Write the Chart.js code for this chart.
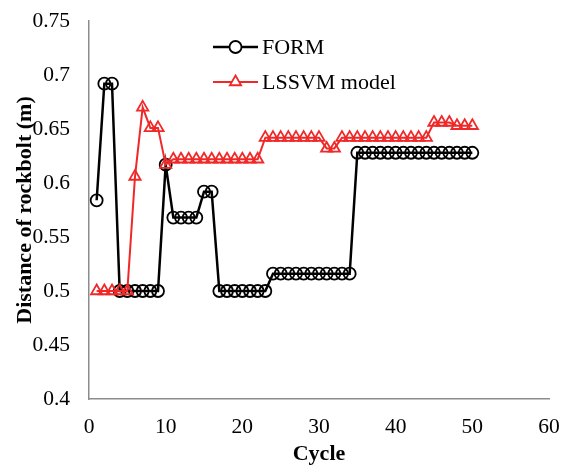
<!DOCTYPE html>
<html>
<head>
<meta charset="utf-8">
<script src="https://cdn.jsdelivr.net/npm/chart.js@4/dist/chart.umd.min.js"></script>
<style>
  html, body { margin: 0; padding: 0; background: #fff; }
  #wrap { width: 573px; height: 469px; position: relative; }
</style>
</head>
<body>
<div id="wrap"><canvas id="chart" width="573" height="469"></canvas></div>
<script>
// values
const cycles = [];
for (let i = 1; i <= 50; i++) cycles.push(i);

const formValues = [
    0.584, 0.692, 0.692, 0.5, 0.5, 0.5, 0.5, 0.5, 0.5, 0.617,
    0.568, 0.568, 0.568, 0.568, 0.592, 0.592, 0.5, 0.5, 0.5, 0.5,
    0.5, 0.5, 0.5, 0.516, 0.516, 0.516, 0.516, 0.516, 0.516, 0.516,
    0.516, 0.516, 0.516, 0.516, 0.628, 0.628, 0.628, 0.628, 0.628, 0.628,
    0.628, 0.628, 0.628, 0.628, 0.628, 0.628, 0.628, 0.628, 0.628, 0.628
];

const lssvmValues = [
    0.5, 0.5, 0.5, 0.5, 0.5, 0.606, 0.67, 0.651, 0.651, 0.617,
    0.622, 0.622, 0.622, 0.622, 0.622, 0.622, 0.622, 0.622, 0.622, 0.622,
    0.622, 0.622, 0.642, 0.642, 0.642, 0.642, 0.642, 0.642, 0.642, 0.642,
    0.632, 0.632, 0.642, 0.642, 0.642, 0.642, 0.642, 0.642, 0.642, 0.642,
    0.642, 0.642, 0.642, 0.642, 0.656, 0.656, 0.656, 0.653, 0.653, 0.653
];

const xTicks = [0, 10, 20, 30, 40, 50, 60];
const yTicks = [0.4, 0.45, 0.5, 0.55, 0.6, 0.65, 0.7, 0.75];

const serif = "'Times New Roman', 'Liberation Serif', serif";
const red = "#f02828";
const axisGrey = "#8c8c8c";

function toPoints(vals) {
    return vals.map((v, i) => ({ x: cycles[i], y: v }));
}

// legend drawn by hand: line with marker in the middle, like the original
const lineLegend = {
    id: "lineLegend",
    afterDraw(chart) {
        const ctx = chart.ctx;
        const x0 = 213, x1 = 258, rowY = [47, 82];
        chart.data.datasets.forEach((ds, i) => {
            const y = rowY[i];
            const mid = (x0 + x1) / 2;
            ctx.save();
            ctx.strokeStyle = ds.borderColor;
            ctx.lineWidth = ds.borderWidth;
            ctx.beginPath();
            ctx.moveTo(x0, y);
            ctx.lineTo(x1, y);
            ctx.stroke();
            ctx.fillStyle = "#fff";
            ctx.strokeStyle = ds.borderColor;
            ctx.lineWidth = ds.pointBorderWidth;
            Chart.helpers.drawPoint(ctx, {
                pointStyle: ds.pointStyle,
                radius: ds.pointRadius,
                borderWidth: ds.pointBorderWidth,
                rotation: 0
            }, mid, y);
            ctx.fillStyle = "#000";
            ctx.font = "22px " + serif;
            ctx.textBaseline = "middle";
            ctx.textAlign = "left";
            ctx.fillText(ds.label, x1 + 4, y + 1);
            ctx.restore();
        });
    }
};

new Chart(document.getElementById("chart"), {
    type: "line",
    data: {
        datasets: [
            {
                label: "FORM",
                data: toPoints(formValues),
                borderColor: "#000",
                borderWidth: 2.5,
                pointStyle: "circle",
                pointRadius: 6,
                pointBorderWidth: 1.8,
                pointBorderColor: "#000",
                pointBackgroundColor: "rgba(0,0,0,0)",
                tension: 0,
                order: 1
            },
            {
                label: "LSSVM model",
                data: toPoints(lssvmValues),
                borderColor: red,
                borderWidth: 2,
                pointStyle: "triangle",
                pointRadius: 6.5,
                pointBorderWidth: 1.8,
                pointBorderColor: red,
                pointBackgroundColor: "rgba(0,0,0,0)",
                tension: 0,
                order: 0
            }
        ]
    },
    options: {
        responsive: false,
        animation: false,
        layout: { padding: { top: 21, right: 24, left: 0, bottom: 0 } },
        plugins: {
            legend: { display: false },
            tooltip: { enabled: false }
        },
        scales: {
            x: {
                type: "linear",
                min: 0,
                max: 60,
                afterBuildTicks: s => { s.ticks = xTicks.map(v => ({ value: v })); },
                afterFit: s => { s.height = 70; s.paddingLeft = 0; s.paddingRight = 0; },
                grid: { display: false, drawTicks: false },
                border: { display: true, color: axisGrey, width: 1.5 },
                ticks: { color: "#000", font: { family: serif, size: 21.5 }, padding: 15, maxRotation: 0 },
                title: {
                    display: true,
                    text: "Cycle",
                    color: "#000",
                    font: { family: serif, size: 22, weight: "bold" },
                    padding: { top: 0, bottom: 1 }
                }
            },
            y: {
                type: "linear",
                min: 0.4,
                max: 0.75,
                afterBuildTicks: s => { s.ticks = yTicks.map(v => ({ value: v })); },
                afterFit: s => { s.width = 89; s.paddingTop = 0; s.paddingBottom = 0; },
                grid: { display: false, drawTicks: false },
                border: { display: true, color: axisGrey, width: 1.5 },
                ticks: {
                    color: "#000",
                    font: { family: serif, size: 21.5 },
                    padding: 19,
                    callback: v => String(Number(v.toFixed(2)))
                },
                title: {
                    display: true,
                    text: "Distance of rockbolt (m)",
                    color: "#000",
                    font: { family: serif, size: 22, weight: "bold" },
                    padding: { top: 12, bottom: 0 }
                }
            }
        }
    },
    plugins: [lineLegend]
});
</script>
</body>
</html>
